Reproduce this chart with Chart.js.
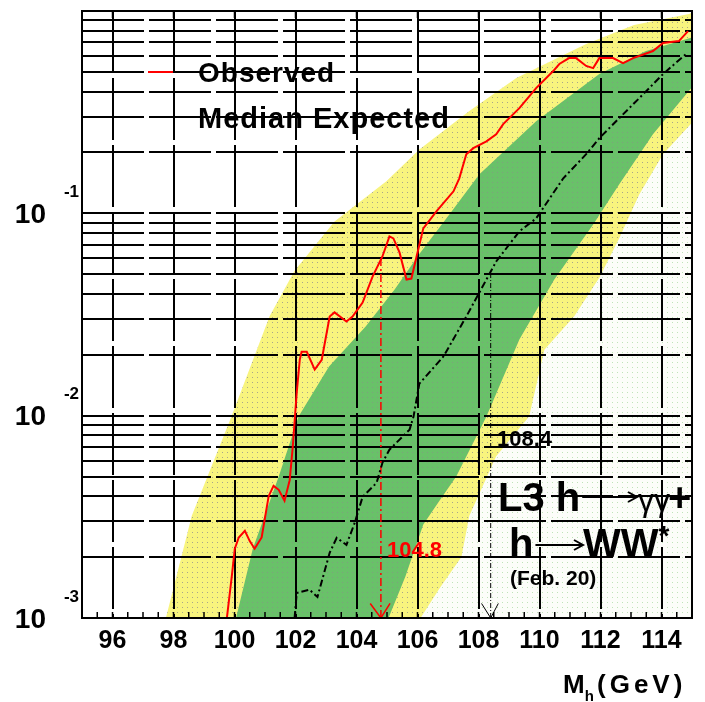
<!DOCTYPE html>
<html>
<head>
<meta charset="utf-8">
<title>L3 h→γγ + h→WW* confidence level</title>
<script src="https://cdn.jsdelivr.net/npm/chart.js@4.4.1/dist/chart.umd.min.js"></script>
<style>
    html, body { margin: 0; padding: 0; background: #fff; }
    #wrap { width: 705px; height: 702px; position: relative; }
</style>
</head>
<body>
<div id="wrap"><canvas id="cls"></canvas></div>
<script>
// Значения: масса в ГэВ, CL по логарифмической оси
const xTicks = [96, 98, 100, 102, 104, 106, 108, 110, 112, 114];
const yGrid = [
    0.001, 0.002, 0.003, 0.004, 0.005, 0.006, 0.007, 0.008, 0.009,
    0.01, 0.02, 0.03, 0.04, 0.05, 0.06, 0.07, 0.08, 0.09,
    0.1, 0.2, 0.3, 0.4, 0.5, 0.6, 0.7, 0.8, 0.9, 1
];
const yDecades = [0.001, 0.01, 0.1];
const yDecadeExp = ['-3', '-2', '-1'];

// Observed
const obsMass = [99.75, 99.91, 100.01, 100.14, 100.34, 100.50, 100.66, 100.89, 101.12, 101.28,
    101.45, 101.64, 101.81, 101.91, 102.04, 102.14, 102.20, 102.37, 102.63, 102.86,
    103.12, 103.28, 103.67, 103.87, 104.20, 104.53, 104.85, 105.08, 105.21, 105.41,
    105.64, 105.80, 105.97, 106.19, 106.62, 107.18, 107.37, 107.60, 107.83, 108.26,
    108.58, 108.81, 109.34, 109.89, 110.45, 110.65, 110.97, 111.20, 111.53, 111.76,
    111.96, 112.41, 112.74, 113.07, 113.72, 114.05, 114.57, 114.87];
const obsCL = [0.001, 0.0016, 0.0022, 0.0025, 0.0027, 0.0024, 0.0022, 0.0025, 0.0040, 0.0045,
    0.0043, 0.0038, 0.0048, 0.0070, 0.0130, 0.0189, 0.0207, 0.0207, 0.0169, 0.0189,
    0.0309, 0.0324, 0.0292, 0.0309, 0.0362, 0.0488, 0.0612, 0.0769, 0.0752, 0.0641,
    0.0471, 0.0476, 0.0612, 0.0843, 0.1023, 0.1285, 0.149, 0.196, 0.210, 0.227,
    0.246, 0.276, 0.331, 0.416, 0.505, 0.547, 0.585, 0.585, 0.535, 0.522,
    0.585, 0.585, 0.553, 0.585, 0.634, 0.695, 0.710, 0.796];

// Median Expected
const expMass = [101.97, 102.04, 102.46, 102.72, 103.12, 103.35, 103.67, 103.94, 104.20, 104.66,
    104.85, 105.08, 105.74, 105.87, 106.06, 106.85, 107.60, 108.58, 109.34, 109.89,
    110.78, 111.53, 111.96, 112.61, 113.40, 114.05, 114.80];
const expCL = [0.001, 0.00133, 0.00138, 0.00127, 0.0021, 0.00249, 0.0023, 0.00295, 0.00397, 0.00466,
    0.00585, 0.00679, 0.00853, 0.00989, 0.0144, 0.0196, 0.0309, 0.0578, 0.0815, 0.0944,
    0.149, 0.196, 0.235, 0.295, 0.388, 0.488, 0.612];

// Полосы ±2σ (жёлтая) и ±1σ (зелёная)
const band2UpMass = [97.75, 98.6, 99.9, 101.15, 101.97, 103.28, 104.98, 106.06, 107.7, 109.24, 111.53, 113.1, 114.9, 115];
const band2UpCL = [0.001, 0.0032, 0.0099, 0.031, 0.052, 0.091, 0.144, 0.207, 0.32, 0.466, 0.687, 0.853, 0.966, 0.98];
const band1UpMass = [100.05, 100.6, 101.45, 102.1, 103.1, 104.3, 105.25, 106.06, 107.05, 108.03, 109.89, 111.96, 113.49, 115];
const band1UpCL = [0.001, 0.0022, 0.005, 0.0099, 0.0175, 0.0276, 0.042, 0.063, 0.099, 0.156, 0.285, 0.488, 0.634, 0.74];
const band1LoMass = [105.05, 105.6, 106.19, 106.72, 107.27, 108.26, 109.34, 110.48, 111.76, 112.61, 113.72, 115];
const band1LoCL = [0.001, 0.0016, 0.0029, 0.0038, 0.005, 0.0099, 0.0238, 0.047, 0.088, 0.139, 0.246, 0.42];
const band2LoMass = [106.1, 106.72, 107.44, 107.7, 108.58, 109.66, 110.16, 111.14, 111.96, 112.61, 113.27, 114.05, 115];
const band2LoCL = [0.001, 0.0014, 0.002, 0.0032, 0.0063, 0.0099, 0.0212, 0.031, 0.048, 0.075, 0.124, 0.196, 0.28];

// Пределы по массе: наблюдаемый 104.8, ожидаемый 108.4
const obsLimitMass = [104.8, 104.8];
const obsLimitCL = [0.001, 0.06];
const obsArrowMass = [104.45, 104.8, 105.1];
const obsArrowCL = [0.00118, 0.001, 0.00118];
const expLimitMass = [108.4, 108.4];
const expLimitCL = [0.001, 0.05];
const expArrowMass = [108.1, 108.4, 108.65];
const expArrowCL = [0.00118, 0.001, 0.00118];

const FONT = '"Liberation Sans", Arial, Helvetica, sans-serif';

function points(xs, ys) {
    return xs.map((x, i) => ({ x: x, y: ys[i] }));
}

// Точечная заливка как в оригинале
function dotPattern(base, dot, step) {
    const tile = document.createElement('canvas');
    tile.width = step;
    tile.height = step;
    const g = tile.getContext('2d');
    g.fillStyle = base;
    g.fillRect(0, 0, step, step);
    g.fillStyle = dot;
    g.fillRect(2, 2, 1, 1);
    return document.getElementById('cls').getContext('2d').createPattern(tile, 'repeat');
}

const yellowFill = dotPattern('#f8f47e', '#a8a68a', 5);
const greenFill = dotPattern('#69c169', '#7f9f7f', 5);
const paleFill = dotPattern('#fcfdf9', '#bfe3b8', 5);

function bandSet(label, xs, ys, fillStyle, order) {
    return {
        label: label,
        data: points(xs, ys),
        borderColor: 'rgba(0,0,0,0)',
        borderWidth: 1,
        backgroundColor: fillStyle,
        fill: 'start',
        pointRadius: 0,
        order: order
    };
}

function lineSet(label, xs, ys, color, width, dash, order) {
    return {
        label: label,
        data: points(xs, ys),
        borderColor: color,
        borderWidth: width,
        borderDash: dash,
        fill: false,
        pointRadius: 0,
        order: order
    };
}

function text(ctx, str, x, y, font, color, align, baseline) {
    ctx.font = font;
    ctx.fillStyle = color;
    ctx.textAlign = align || 'left';
    ctx.textBaseline = baseline || 'alphabetic';
    ctx.fillText(str, x, y);
    return ctx.measureText(str).width;
}

function arrow(ctx, x1, x2, y) {
    ctx.beginPath();
    ctx.moveTo(x1, y);
    ctx.lineTo(x2, y);
    ctx.moveTo(x2 - 9, y - 5);
    ctx.lineTo(x2, y);
    ctx.lineTo(x2 - 9, y + 5);
    ctx.stroke();
}

// Рамка, засечки, подписи осей, легенда и надписи
const decorPlugin = {
    id: 'decor',
    afterDraw(chart) {
        const ctx = chart.ctx;
        const a = chart.chartArea;
        const xs = chart.scales.x;
        const ys = chart.scales.y;
        ctx.save();

        ctx.strokeStyle = '#000';
        ctx.lineWidth = 2;
        ctx.strokeRect(a.left, a.top, a.right - a.left, a.bottom - a.top);

        ctx.lineWidth = 1.5;
        ctx.beginPath();
        for (let m = 95.5; m < 115; m += 0.5) {
            const px = xs.getPixelForValue(m);
            ctx.moveTo(px, a.bottom);
            ctx.lineTo(px, a.bottom - 6);
        }
        xTicks.forEach(v => {
            const px = xs.getPixelForValue(v);
            ctx.moveTo(px, a.top);
            ctx.lineTo(px, a.top + 7);
        });
        ctx.stroke();

        xTicks.forEach(v => {
            text(ctx, String(v), xs.getPixelForValue(v), a.bottom + 23, 'bold 25px ' + FONT, '#000', 'center', 'middle');
        });
        yDecades.forEach((v, i) => {
            const py = ys.getPixelForValue(v);
            text(ctx, '10', 46, py + 2, 'bold 28px ' + FONT, '#000', 'right', 'middle');
            text(ctx, yDecadeExp[i], 79, py - 21, 'bold 17px ' + FONT, '#000', 'right', 'middle');
        });

        // M_h (GeV)
        const mw = text(ctx, 'M', 563, 693, 'bold 26px ' + FONT, '#000');
        text(ctx, 'h', 563 + mw, 701, 'bold 15px ' + FONT, '#000');
        ctx.letterSpacing = '4px';
        text(ctx, '(GeV)', 597, 693, 'bold 26px ' + FONT, '#000');
        ctx.letterSpacing = '0px';

        // легенда
        ctx.lineWidth = 2;
        ctx.strokeStyle = '#ff0000';
        ctx.beginPath();
        ctx.moveTo(148, 72);
        ctx.lineTo(173, 72);
        ctx.stroke();
        ctx.letterSpacing = '1px';
        text(ctx, 'Observed', 198, 74, 'bold 28px ' + FONT, '#000', 'left', 'middle');
        text(ctx, 'Median Expected', 198, 120, 'bold 29px ' + FONT, '#000', 'left', 'middle');
        ctx.letterSpacing = '0px';

        // значения пределов
        text(ctx, '104.8', 387, 551, 'bold 22px ' + FONT, '#ff0000', 'left', 'middle');
        text(ctx, '108.4', 497, 440, 'bold 22px ' + FONT, '#000', 'left', 'middle');

        // L3 h→γγ + h→WW*
        ctx.strokeStyle = '#000';
        ctx.lineWidth = 2;
        let w = text(ctx, 'L3 h', 498, 511, 'bold 40px ' + FONT, '#000');
        arrow(ctx, 498 + w + 2, 637, 497);
        w = text(ctx, 'γγ', 638, 511, '32px ' + FONT, '#000');
        text(ctx, '+', 638 + w - 2, 511, 'bold 40px ' + FONT, '#000');
        w = text(ctx, 'h', 509, 557, 'bold 40px ' + FONT, '#000');
        arrow(ctx, 509 + w + 2, 583, 545);
        w = text(ctx, 'WW', 583, 557, 'bold 40px ' + FONT, '#000');
        text(ctx, '*', 583 + w, 545, 'bold 28px ' + FONT, '#000');
        text(ctx, '(Feb. 20)', 510, 579, 'bold 21px ' + FONT, '#000', 'left', 'middle');

        ctx.restore();
    }
};

new Chart(document.getElementById('cls'), {
    type: 'line',
    data: {
        datasets: [
            lineSet('Observed', obsMass, obsCL, '#ff0000', 2, [], 0),
            lineSet('Median Expected', expMass, expCL, '#000000', 2, [7, 3, 2, 3], 1),
            lineSet('obs limit', obsLimitMass, obsLimitCL, '#ff0000', 1.5, [8, 3, 2, 3], 2),
            lineSet('obs arrow', obsArrowMass, obsArrowCL, '#ff0000', 1.5, [], 2),
            lineSet('exp limit', expLimitMass, expLimitCL, '#000000', 1, [5, 2, 1, 2], 2),
            lineSet('exp arrow', expArrowMass, expArrowCL, '#000000', 1, [], 2),
            bandSet('pale', band2LoMass, band2LoCL, paleFill, 7),
            bandSet('yellow low', band1LoMass, band1LoCL, yellowFill, 8),
            bandSet('green', band1UpMass, band1UpCL, greenFill, 9),
            bandSet('yellow', band2UpMass, band2UpCL, yellowFill, 10)
        ]
    },
    options: {
        responsive: true,
        maintainAspectRatio: false,
        animation: false,
        devicePixelRatio: 1,
        layout: {
            padding: { left: 82, right: 13, top: 11, bottom: 84 }
        },
        elements: {
            line: { tension: 0 }
        },
        scales: {
            x: {
                type: 'linear',
                min: 95,
                max: 115,
                afterBuildTicks: function(scale) {
                    scale.ticks = xTicks.map(v => ({ value: v }));
                },
                ticks: { display: false },
                grid: { color: '#000', lineWidth: 2, drawTicks: false },
                border: { display: false, dash: [62, 5] }
            },
            y: {
                type: 'logarithmic',
                min: 0.001,
                max: 1,
                afterBuildTicks: function(scale) {
                    scale.ticks = yGrid.map(v => ({ value: v }));
                },
                ticks: { display: false },
                grid: { color: '#000', lineWidth: 2, drawTicks: false },
                border: { display: false, dash: [62, 5] }
            }
        },
        plugins: {
            legend: { display: false },
            tooltip: { enabled: false },
            filler: { drawTime: 'beforeDraw' }
        }
    },
    plugins: [decorPlugin]
});
</script>
</body>
</html>
